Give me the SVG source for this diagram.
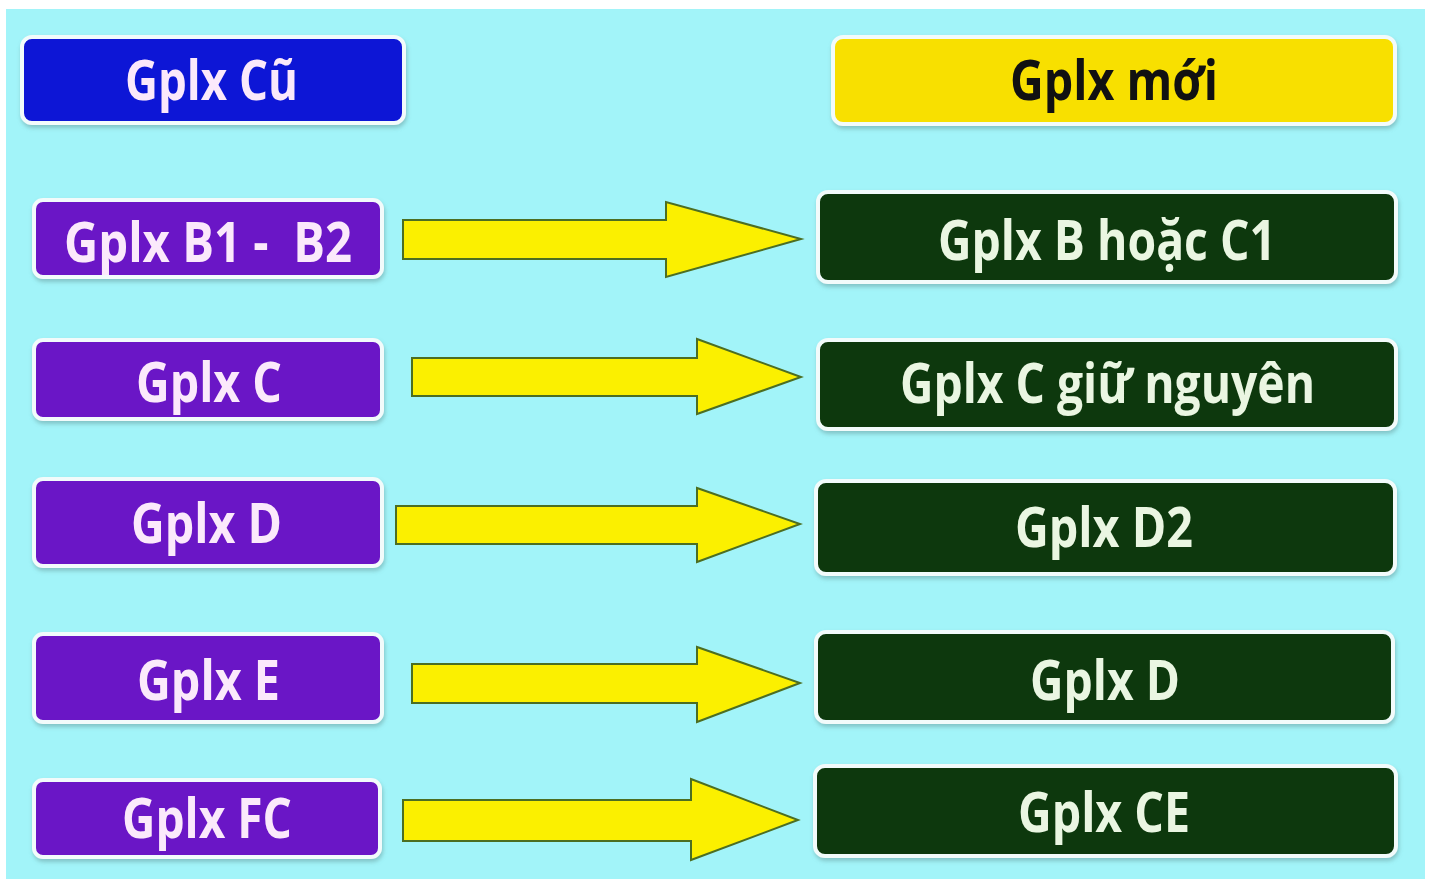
<svg xmlns="http://www.w3.org/2000/svg" width="1432" height="879" viewBox="0 0 1432 879">
  <defs>
    <filter id="sh" x="-5%" y="-20%" width="110%" height="140%">
      <feDropShadow dx="1" dy="3" stdDeviation="2" flood-color="#5a8a8a" flood-opacity="0.45"/>
    </filter>
    <style>
      .box { stroke: #f2fbfb; stroke-width: 4; filter: url(#sh); }
      .old { fill: #6a14c6; }
      .hdrOld { fill: #0c12d6; }
      .hdrNew { fill: #f8e000; }
      .new { fill: #0a380b; }
      .t { font-family: "Open Sans", "Noto Sans", sans-serif; font-weight: 700; font-size: 56px; white-space: pre; }
      .tl { fill: #fbe9fb; }
      .tg { fill: #eaf6e2; }
      .tb { fill: #111111; }
      .arr { fill: #fbf000; stroke: #4c6e22; stroke-width: 2; stroke-linejoin: miter; }
    </style>
  </defs>
  <rect x="0" y="0" width="1432" height="879" fill="#ffffff"/>
  <rect x="6" y="9" width="1419" height="870" fill="#a2f4f9"/>

  <g id="old-header">
    <rect class="box hdrOld" x="22" y="37" width="382" height="86" rx="10"/>
    <text class="t tl" x="125" y="100" textLength="173" lengthAdjust="spacingAndGlyphs">Gplx Cũ</text>
  </g>
  <g id="new-header">
    <rect class="box hdrNew" x="833" y="37" width="562" height="87" rx="10"/>
    <text class="t tb" x="1010" y="100" textLength="208" lengthAdjust="spacingAndGlyphs">Gplx mới</text>
  </g>

  <g id="old-b1b2">
    <rect class="box old" x="34" y="200" width="348" height="77" rx="9"/>
    <text class="t tl" x="64" y="262" textLength="288" lengthAdjust="spacingAndGlyphs" xml:space="preserve">Gplx B1 -  B2</text>
  </g>
  <g id="old-c">
    <rect class="box old" x="34" y="340" width="348" height="79" rx="9"/>
    <text class="t tl" x="136" y="402" textLength="146" lengthAdjust="spacingAndGlyphs">Gplx C</text>
  </g>
  <g id="old-d">
    <rect class="box old" x="34" y="479" width="348" height="87" rx="9"/>
    <text class="t tl" x="131" y="543" textLength="151" lengthAdjust="spacingAndGlyphs">Gplx D</text>
  </g>
  <g id="old-e">
    <rect class="box old" x="34" y="634" width="348" height="88" rx="9"/>
    <text class="t tl" x="137" y="700" textLength="143" lengthAdjust="spacingAndGlyphs">Gplx E</text>
  </g>
  <g id="old-fc">
    <rect class="box old" x="34" y="780" width="346" height="77" rx="9"/>
    <text class="t tl" x="122" y="838" textLength="170" lengthAdjust="spacingAndGlyphs">Gplx FC</text>
  </g>

  <g id="new-b-c1">
    <rect class="box new" x="818" y="192" width="578" height="90" rx="10"/>
    <text class="t tg" x="938" y="260" textLength="338" lengthAdjust="spacingAndGlyphs">Gplx B hoặc C1</text>
  </g>
  <g id="new-c">
    <rect class="box new" x="818" y="340" width="578" height="89" rx="10"/>
    <text class="t tg" x="900" y="403" textLength="415" lengthAdjust="spacingAndGlyphs">Gplx C giữ nguyên</text>
  </g>
  <g id="new-d2">
    <rect class="box new" x="816" y="481" width="579" height="93" rx="10"/>
    <text class="t tg" x="1015" y="547" textLength="178" lengthAdjust="spacingAndGlyphs">Gplx D2</text>
  </g>
  <g id="new-d">
    <rect class="box new" x="816" y="632" width="577" height="90" rx="10"/>
    <text class="t tg" x="1030" y="700" textLength="150" lengthAdjust="spacingAndGlyphs">Gplx D</text>
  </g>
  <g id="new-ce">
    <rect class="box new" x="815" y="766" width="581" height="90" rx="10"/>
    <text class="t tg" x="1018" y="832" textLength="172" lengthAdjust="spacingAndGlyphs">Gplx CE</text>
  </g>

  <g id="connectors">
    <polygon class="arr" points="403,220 666,220 666,202 801,239 666,277 666,259 403,259"/>
    <polygon class="arr" points="412,358 697,358 697,339 801,377 697,414 697,396 412,396"/>
    <polygon class="arr" points="396,506 697,506 697,488 800,524 697,562 697,544 396,544"/>
    <polygon class="arr" points="412,664 697,664 697,647 800,683 697,722 697,703 412,703"/>
    <polygon class="arr" points="403,800 691,800 691,779 798,820 691,860 691,841 403,841"/>
  </g>
</svg>
